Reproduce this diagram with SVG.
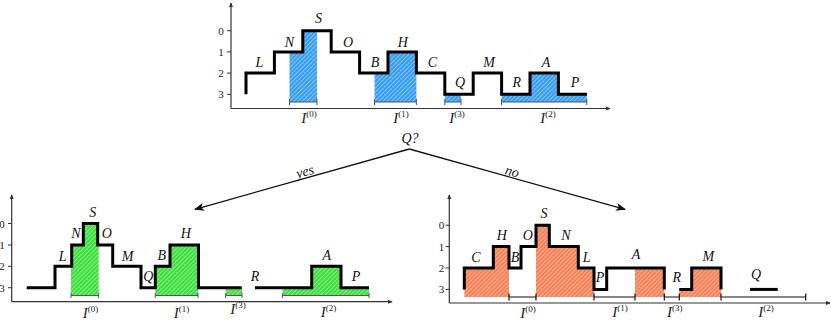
<svg xmlns="http://www.w3.org/2000/svg" width="831" height="323" viewBox="0 0 831 323">
<style>
.ax{fill:none;stroke:#333;stroke-width:1.2}
.tk{fill:none;stroke:#333;stroke-width:1}
.st{fill:none;stroke:#000;stroke-width:3;stroke-linejoin:miter;stroke-linecap:butt}
.br{fill:none;stroke:#555;stroke-width:1}
.brk{fill:none;stroke:#111;stroke-width:1.2}
.lb{font-family:"Liberation Serif",serif;font-style:italic;font-size:14px;fill:#111;text-anchor:middle}
.tl{font-family:"Liberation Serif",serif;font-size:11px;fill:#222;text-anchor:middle}
.iv{font-family:"Liberation Serif",serif;font-style:italic;font-size:15px;fill:#222;text-anchor:middle}
.sp{font-style:normal;font-size:9px}
.con{fill:none;stroke:#111;stroke-width:1.3}
.bl{fill:url(#hb)}
.gr{fill:url(#hg)}
.or{fill:url(#ho)}
</style>
<defs>
<pattern id="hb" patternUnits="userSpaceOnUse" width="3" height="3" patternTransform="rotate(45)">
<rect width="3" height="3" fill="#3a9ff0"/><line x1="0" y1="0" x2="0" y2="3" stroke="#bfe0fb" stroke-width="1"/>
</pattern>
<pattern id="hg" patternUnits="userSpaceOnUse" width="3" height="3" patternTransform="rotate(45)">
<rect width="3" height="3" fill="#3fe03f"/><line x1="0" y1="0" x2="0" y2="3" stroke="#c4f7c4" stroke-width="1"/>
</pattern>
<pattern id="ho" patternUnits="userSpaceOnUse" width="3" height="3" patternTransform="rotate(45)">
<rect width="3" height="3" fill="#f4835a"/><line x1="0" y1="0" x2="0" y2="3" stroke="#fcd2c0" stroke-width="1"/>
</pattern>
<marker id="ah" viewBox="0 0 10 8" refX="9" refY="4" markerWidth="10" markerHeight="8" markerUnits="userSpaceOnUse" orient="auto">
<path d="M0,0 L10,4 L0,8 L2.5,4 z" fill="#111"/>
</marker>
<marker id="axh" viewBox="0 0 6 6" refX="5" refY="3" markerWidth="5" markerHeight="5" markerUnits="userSpaceOnUse" orient="auto">
<path d="M0,0.5 L6,3 L0,5.5 z" fill="#333"/>
</marker>
</defs>

<g id="top-panel">
<path class="bl" d="M289.5,102 V51.9 H302.8 V30.7 H317 V102 Z"/>
<path class="bl" d="M374.5,102 V73.1 H388 V51.9 H416.4 V102 Z"/>
<path class="bl" d="M444.8,102 V94.3 H461 V102 Z"/>
<path class="bl" d="M501.6,102 V94.3 H530 V73.1 H558.4 V94.3 H586.8 V102 Z"/>
<path class="ax" d="M231,108.5 V3" marker-end="url(#axh)"/>
<path class="ax" d="M231,108.5 H610" marker-end="url(#axh)"/>
<path class="tk" d="M227,30.7 H231 M227,51.9 H231 M227,73.1 H231 M227,94.3 H231"/>
<text class="tl" x="221" y="34.7">0</text>
<text class="tl" x="221" y="55.9">1</text>
<text class="tl" x="221" y="77.1">2</text>
<text class="tl" x="221" y="98.3">3</text>
<path class="st" d="M246,94.3 V73.1 H274.4 V51.9 H302.8 V30.7 H331.2 V51.9 H359.6 V73.1 H388 V51.9 H416.4 V73.1 H444.8 V94.3 H473.2 V73.1 H501.6 V94.3 H530 V73.1 H558.4 V94.3 H587"/>
<path class="br" d="M289.5,102 H317 M289.5,99 V105 M317,99 V105"/>
<path class="br" d="M374.5,102 H416.4 M374.5,99 V105 M416.4,99 V105"/>
<path class="br" d="M444.8,102 H461 M444.8,99 V105 M461,99 V105"/>
<path class="br" d="M501.6,102 H586.8 M501.6,99 V105 M586.8,99 V105"/>
<text class="lb" x="259.5" y="66.7">L</text>
<text class="lb" x="289.5" y="46.7">N</text>
<text class="lb" x="318.5" y="23.3">S</text>
<text class="lb" x="348" y="46.7">O</text>
<text class="lb" x="375" y="66.7">B</text>
<text class="lb" x="402.7" y="46.7">H</text>
<text class="lb" x="432.5" y="66.7">C</text>
<text class="lb" x="460" y="86.7">Q</text>
<text class="lb" x="489" y="66.7">M</text>
<text class="lb" x="516.7" y="86.7">R</text>
<text class="lb" x="546" y="66.7">A</text>
<text class="lb" x="575" y="86.7">P</text>
<text class="iv" x="309" y="123">I<tspan class="sp" dy="-6">(0)</tspan></text>
<text class="iv" x="401" y="123">I<tspan class="sp" dy="-6">(1)</tspan></text>
<text class="iv" x="457" y="123">I<tspan class="sp" dy="-6">(3)</tspan></text>
<text class="iv" x="548" y="123">I<tspan class="sp" dy="-6">(2)</tspan></text>
</g>

<g id="question">
<text class="lb" x="410" y="143">Q?</text>
</g>

<g id="connectors">
<path class="con" d="M409.3,149 L195,209.3" marker-end="url(#ah)"/>
<path class="con" d="M409.3,149 L625,209.3" marker-end="url(#ah)"/>
<text class="lb" font-size="13" x="305" y="176" transform="rotate(-15.6 305 172)">yes</text>
<text class="lb" font-size="13" x="512" y="176" transform="rotate(15.6 512 172)">no</text>
</g>

<g id="yes-panel">
<path class="gr" d="M71,295 V245 H83.3 V223.5 H97.7 V245 H98.7 V295 Z"/>
<path class="gr" d="M155.3,295 V266.3 H170 V245 H198 V295 Z"/>
<path class="gr" d="M225.7,295 V287.7 H242 V295 Z"/>
<path class="gr" d="M282.7,295 V287.7 H311.7 V266.3 H341 V287.7 H369 V295 Z"/>
<path class="ax" d="M11.7,301.7 V195" marker-end="url(#axh)"/>
<path class="ax" d="M11.7,301.7 H392" marker-end="url(#axh)"/>
<path class="tk" d="M8,223.5 H11.7 M8,245 H11.7 M8,266.3 H11.7 M8,287.7 H11.7"/>
<text class="tl" x="2" y="227.5">0</text>
<text class="tl" x="2" y="249">1</text>
<text class="tl" x="2" y="270.3">2</text>
<text class="tl" x="2" y="291.7">3</text>
<path class="st" d="M26.7,287.7 H55 V266.3 H71.7 V245 H83.3 V223.5 H97.7 V245 H112.7 V266.3 H141 V287.7 H155.3 V266.3 H170 V245 H198.5 V287.7 H241.7"/>
<path class="st" d="M255,287.7 H311.7 V266.3 H341 V287.7 H369"/>
<path class="br" d="M71,295.5 H98.7 M71,293 V298 M98.7,293 V298"/>
<path class="br" d="M155.3,295.5 H198 M155.3,293 V298 M198,293 V298"/>
<path class="br" d="M225.7,295.5 H242 M225.7,293 V298 M242,293 V298"/>
<path class="br" d="M282.7,295.5 H369 M282.7,293 V298 M369,293 V298"/>
<text class="lb" x="62.7" y="261">L</text>
<text class="lb" x="76" y="238.3">N</text>
<text class="lb" x="92.7" y="217.3">S</text>
<text class="lb" x="106.7" y="238.3">O</text>
<text class="lb" x="127.7" y="261">M</text>
<text class="lb" x="148.3" y="281">Q</text>
<text class="lb" x="161.7" y="260">B</text>
<text class="lb" x="185.7" y="238.3">H</text>
<text class="lb" x="255" y="281">R</text>
<text class="lb" x="326.7" y="260">A</text>
<text class="lb" x="356" y="281">P</text>
<text class="iv" x="90.5" y="318">I<tspan class="sp" dy="-6">(0)</tspan></text>
<text class="iv" x="181.5" y="318">I<tspan class="sp" dy="-6">(1)</tspan></text>
<text class="iv" x="238" y="314">I<tspan class="sp" dy="-6">(3)</tspan></text>
<text class="iv" x="328.5" y="317">I<tspan class="sp" dy="-6">(2)</tspan></text>
</g>

<g id="no-panel">
<path class="or" d="M464.3,297 V268 H493.3 V246.6 H509 V297 Z"/>
<path class="or" d="M536,297 V225.2 H549.3 V246.6 H578.3 V268 H594 V297 Z"/>
<path class="or" d="M635,297 V268 H664.3 V297 Z"/>
<path class="or" d="M679.3,297 V289.4 H691.7 V268 H721 V297 Z"/>
<path class="ax" d="M449.3,303 V195" marker-end="url(#axh)"/>
<path class="ax" d="M449.3,303 H830" marker-end="url(#axh)"/>
<path class="tk" d="M445.5,225.2 H449.3 M445.5,246.6 H449.3 M445.5,268 H449.3 M445.5,289.4 H449.3"/>
<text class="tl" x="441.5" y="229.2">0</text>
<text class="tl" x="441.5" y="250.6">1</text>
<text class="tl" x="441.5" y="272">2</text>
<text class="tl" x="441.5" y="293.4">3</text>
<path class="st" d="M464.3,289.4 V268 H493.3 V246.6 H509 V268 H521 V246.6 H536 V225.2 H549.3 V246.6 H578.3 V268 H594 V289.4 H606.7 V268 H664.3 V289.4"/>
<path class="st" d="M679.3,289.4 H691.7 V268 H721 V289.4"/>
<path class="st" d="M750,289.4 H777.7"/>
<path class="brk" d="M509,297 H536 M509,293.5 V300.5 M536,293.5 V300.5"/>
<path class="brk" d="M594,297 H635 M594,293.5 V300.5 M635,293.5 V300.5"/>
<path class="brk" d="M664.3,297 H679.3 M664.3,293.5 V300.5 M679.3,293.5 V300.5"/>
<path class="brk" d="M721,297 H805.7 M721,293.5 V300.5 M805.7,293.5 V300.5"/>
<text class="lb" x="476" y="261.7">C</text>
<text class="lb" x="501.7" y="240">H</text>
<text class="lb" x="515" y="262.3">B</text>
<text class="lb" x="527.7" y="240">O</text>
<text class="lb" x="544" y="218.3">S</text>
<text class="lb" x="566" y="240">N</text>
<text class="lb" x="586.7" y="262.3">L</text>
<text class="lb" x="600" y="281.7">P</text>
<text class="lb" x="636" y="259">A</text>
<text class="lb" x="676.7" y="281.7">R</text>
<text class="lb" x="708.3" y="261">M</text>
<text class="lb" x="756" y="279.3">Q</text>
<text class="iv" x="528" y="318">I<tspan class="sp" dy="-6">(0)</tspan></text>
<text class="iv" x="620" y="317">I<tspan class="sp" dy="-6">(1)</tspan></text>
<text class="iv" x="674.7" y="317">I<tspan class="sp" dy="-6">(3)</tspan></text>
<text class="iv" x="766" y="317">I<tspan class="sp" dy="-6">(2)</tspan></text>
</g>
</svg>
